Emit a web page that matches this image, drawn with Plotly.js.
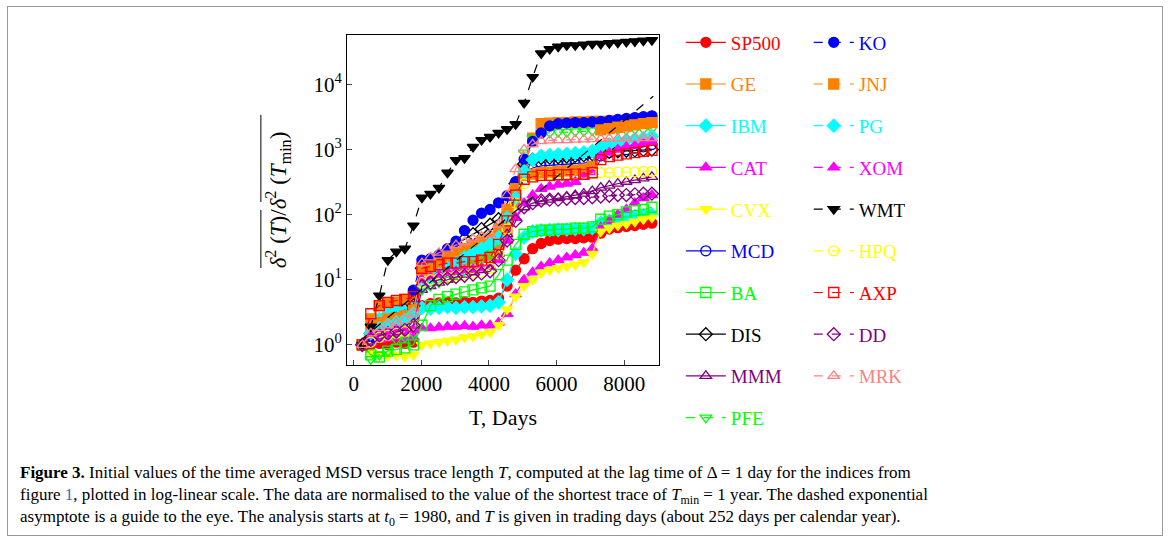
<!DOCTYPE html>
<html><head><meta charset="utf-8">
<script src="https://cdn.plot.ly/plotly-3.0.1.min.js"></script>
<style>
body{margin:0;background:#fff;}
#frame{position:absolute;left:7px;top:6px;width:1154px;height:528px;border:1px solid #999;}
#plot{position:absolute;left:0;top:0;width:1168px;height:541px;}
</style></head><body>
<div id="frame"></div>
<div id="plot"></div>
<script>
const T = [252,504,756,1008,1260,1512,1764,2016,2268,2520,2772,3024,3276,3528,3780,4032,4284,4536,4788,5040,5292,5544,5796,6048,6300,6552,6804,7056,7308,7560,7812,8064,8316,8568,8820];
const SP500=[1,1.0,1.05,1.0,1.1,1.05,1.1,4.0,4.3,4.4,4.5,4.4,4.6,4.5,4.7,4.8,5.2,8,14,21,30,36,40,42,43,43,44,45,52,60,63,66,68,71,74];
const KO=[1,1.3,1.8,2.0,2.3,2.5,6.9,20,21,24,30,39,57,82,105,120,152,195,320,710,1330,1800,2300,2500,2550,2600,2600,2650,2700,2800,2900,3000,3100,3200,3300];
const GE=[1,2.5,4,4.3,4.5,5,6,15,16,17,18,19,20,21,22,24,28,60,150,500,1500,2500,2550,2600,2600,2650,2650,2700,2700,2700,2750,2750,2800,2800,2800];
const JNJ=[1,1.8,2.2,2.5,2.6,2.8,3.5,14,15,18,22,26,30,34,38,42,60,120,250,400,420,440,450,460,470,480,500,550,2000,2100,2200,2300,2400,2500,2600];
const IBM=[1,1.4,2.5,3.0,3.3,3.5,3.7,3.7,3.6,3.7,3.8,3.7,3.8,3.8,3.9,4.0,4.5,10,25,45,55,57,58,58,59,60,60,62,75,80,85,90,95,98,100];
const PG=[1,1.5,1.8,2.0,2.2,2.4,3,8,10,12,15,18,22,26,30,35,45,90,180,460,700,800,820,840,860,880,900,950,1100,1200,1300,1400,1450,1500,1600];
const CAT=[1,1.1,1.2,1.25,1.3,1.25,1.3,1.8,1.8,1.85,1.9,1.9,1.95,1.9,2.0,2.0,2.2,3,6,10,13,16,18,20,22,24,26,30,64,80,100,120,150,180,200];
const XOM=[1,1.4,1.5,1.6,1.7,1.6,1.7,10,11,12,13,13.5,14,14.5,15,16,20,40,90,150,200,250,270,290,300,320,380,450,800,900,1000,1100,1150,1250,1300];
const CVX=[1,0.75,0.7,0.68,0.7,0.66,0.7,1.0,1.05,1.1,1.15,1.2,1.3,1.35,1.45,1.55,2.0,3.5,5.5,8,10,12.8,14,15,16,17,18.5,25,55,62,68,72,78,85,90];
const WMT=[1,1.9,5.7,20,27,30,68,183,208,257,440,690,740,1100,1400,1560,1800,2050,2450,5200,13000,30000,35000,38000,40000,40000,41000,42000,42000,43000,44000,45000,46000,47000,48000];
const MCD=[1,1.3,1.6,1.8,2.0,2.2,2.8,12,15,18,22,25,28,32,36,40,50,100,200,450,520,560,570,580,590,600,620,650,800,900,950,1000,1050,1100,1200];
const HPQ=[1,1.1,1.3,1.4,1.5,1.6,2,9,10,10.5,11,11.5,12,12.5,13,15,25,60,150,300,380,400,410,410,420,420,430,430,440,440,450,450,455,460,460];
const BA=[1,0.7,0.65,0.8,0.85,0.9,1.0,2,4,5,5.5,6,6.5,7,7.5,8,12,20,35,50,55,58,58,60,60,62,62,65,85,95,100,110,115,120,130];
const AXP=[1,3,4,4.5,4.8,5,5.5,15,16,17,18,18,19,19,20,22,35,80,200,350,380,400,400,410,410,420,420,440,700,780,820,860,900,940,970];
const DIS=[1,1.5,2,2.2,2.5,2.7,4,15,18,22,28,35,42,50,60,70,85,150,300,600,700,740,750,760,780,800,820,850,900,920,940,960,970,990,1000];
const DD=[1,1.2,1.4,1.5,1.6,1.7,2,8,9,10,10.5,11,11.5,12,12.5,13.5,20,40,80,130,150,165,170,170,175,180,180,185,190,195,200,200,205,210,210];
const MMM=[1,1.2,1.4,1.5,1.6,1.7,2,7,8,9,10,11,12,13,14,16,25,50,90,130,150,160,170,180,190,200,210,230,260,280,300,320,340,360,380];
const MRK=[1,1.5,1.8,2,2.2,2.4,3,18,22,26,30,34,38,42,46,50,70,200,500,1000,1200,1350,1380,1400,1400,1420,1430,1450,1460,1470,1480,1490,1500,1500,1500];
const PFE=[1,0.6,0.7,0.8,1.2,1.3,1.5,7,8,9,10,12,14,17,20,25,40,100,300,900,1500,1800,1800,1850,1850,1900,1900,1950,1950,2000,2000,2000,2050,2050,2100];
const asymT=[185,8862];
const asymY=[1.15,6600];

const left=[
 ['SP500',SP500,'#ff0000','circle','solid'],
 ['GE',GE,'#ff8000','square','solid'],
 ['IBM',IBM,'#00ffff','diamond','solid'],
 ['CAT',CAT,'#ff00ff','triangle-up','solid'],
 ['CVX',CVX,'#ffff00','triangle-down','solid'],
 ['MCD',MCD,'#0000ff','circle-open','solid'],
 ['BA',BA,'#00ff00','square-open','solid'],
 ['DIS',DIS,'#000000','diamond-open','solid'],
 ['MMM',MMM,'#800080','triangle-up-open','solid'],
 ['PFE',PFE,'#00ff00','triangle-down-open','dash']];
const right=[
 ['KO',KO,'#0000ff','circle','dash'],
 ['JNJ',JNJ,'#ff8000','square','dash'],
 ['PG',PG,'#00ffff','diamond','dash'],
 ['XOM',XOM,'#ff00ff','triangle-up','dash'],
 ['WMT',WMT,'#000000','triangle-down','dash'],
 ['HPQ',HPQ,'#ffff00','circle-open','dash'],
 ['AXP',AXP,'#ff0000','square-open','dash'],
 ['DD',DD,'#800080','diamond-open','dash'],
 ['MRK',MRK,'#ff8080','triangle-up-open','dash']];
const traces=[];
function mk(s,leg,i){
  return {x:T,y:s[1],name:"<span style='color:"+s[2]+"'>"+s[0]+"</span>",type:'scatter',mode:'lines+markers',legend:leg,legendgroup:leg+i,
   line:{color:s[2],width:1.2,dash:s[4]},marker:{symbol:s[3],size:10,color:s[2],line:{color:s[2],width:1.3}}};
}
left.forEach((s,i)=>traces.push(mk(s,'legend',i)));
right.forEach((s,i)=>traces.push(mk(s,'legend2',i)));
traces.push({x:asymT,y:asymY,mode:'lines',line:{color:'#000',dash:'dash',width:1.2},showlegend:false,hoverinfo:'skip'});
const F='"Liberation Serif", "Times New Roman", serif';
const legCommon={font:{family:F,size:19,color:'#000'},bgcolor:'rgba(0,0,0,0)',tracegroupgap:14,yanchor:'top',y:1.035,itemwidth:40,maxheight:1};
const layout={
 width:1168,height:541,paper_bgcolor:'rgba(0,0,0,0)',plot_bgcolor:'#fff',
 margin:{l:347,r:509,t:35,b:176},
 font:{family:F,color:'#000'},
 xaxis:{range:[-200,9030],tickvals:[0,2000,4000,6000,8000],ticks:'inside',ticklen:5,showgrid:false,zeroline:false,
   showline:true,mirror:true,linecolor:'#000',linewidth:1,tickfont:{family:F,size:21},
   title:{text:'T, Days',font:{family:F,size:22},standoff:14}},
 yaxis:{type:'log',range:[-0.31,4.76],tickvals:[1,10,100,1000,10000],
   ticktext:['10<sup>0</sup>','10<sup>1</sup>','10<sup>2</sup>','10<sup>3</sup>','10<sup>4</sup>'],
   ticks:'inside',ticklen:5,showgrid:false,zeroline:false,showline:true,mirror:true,linecolor:'#000',linewidth:1,
   tickfont:{family:F,size:21},
   title:{text:"<i>δ</i><sup>2</sup> (<i>T</i>)/<i>δ</i><sup>2</sup> (<i>T</i><sub>min</sub>)",font:{family:F,size:23},standoff:20}},
 legend:Object.assign({x:1.07,xanchor:'left'},legCommon),
 legend2:Object.assign({x:1.48,xanchor:'left'},legCommon),
 shapes:[
  {type:'line',xref:'paper',yref:'paper',x0:-0.276,x1:-0.276,y0:0.294,y1:0.47,line:{color:'#000',width:1}},
  {type:'line',xref:'paper',yref:'paper',x0:-0.276,x1:-0.276,y0:0.494,y1:0.758,line:{color:'#000',width:1}}
 ],
 annotations:[{xref:'paper',yref:'paper',x:-1.055,y:-0.29,xanchor:'left',yanchor:'top',align:'left',showarrow:false,
   font:{family:F,size:17,color:'#000'},
   text:"<b>Figure 3.</b> Initial values of the time averaged MSD versus trace length <i>T</i>, computed at the lag time of Δ = 1 day for the indices from<br>figure <span style='color:#1f77b4'>1</span>, plotted in log-linear scale. The data are normalised to the value of the shortest trace of <i>T</i><sub>min</sub> = 1 year. The dashed exponential<br>asymptote is a guide to the eye. The analysis starts at <i>t</i><sub>0</sub> = 1980, and <i>T</i> is given in trading days (about 252 days per calendar year)."}]
};
Plotly.newPlot('plot',traces,layout,{displayModeBar:false,staticPlot:true});
</script></body></html>
